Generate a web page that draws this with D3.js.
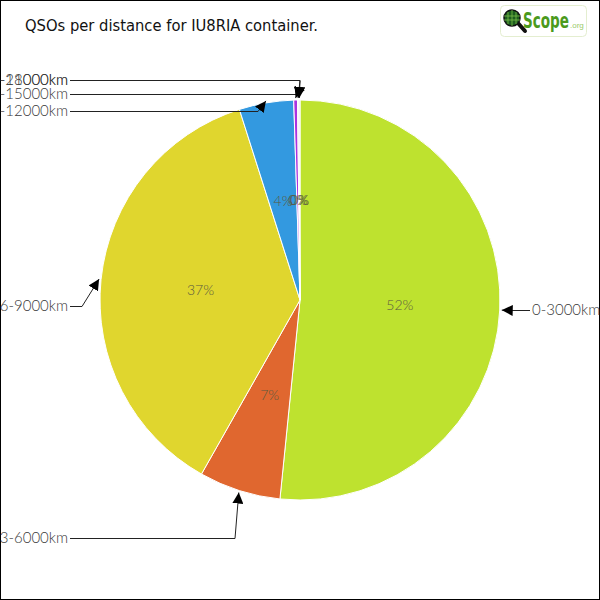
<!DOCTYPE html>
<html><head><meta charset="utf-8">
<script src="https://cdn.jsdelivr.net/npm/d3@7"></script>
<style>body{margin:0;background:#fff}svg{display:block}</style>
</head><body>
<svg id="c" width="600" height="600"></svg>
<script>
// ---- data ----
const categories = ["0-3000km","3-6000km","6-9000km","9-12000km","12-15000km","15-18000km","18-21000km"];
const values = [516, 66, 369, 44, 3, 1, 1];
const colors = ["#bee22f","#e0672f","#e0d62e","#3399e0","#aa33e0","#e899c8","#e0e0e0"];
const title = "QSOs per distance for IU8RIA container.";

const W = 600, H = 600, cx = 300, cy = 300, R = 200;
const svg = d3.select("#c");
svg.append("rect").attr("x",0.5).attr("y",0.5).attr("width",W-1).attr("height",H-1)
  .attr("fill","#fff").attr("stroke","#000");

svg.append("text").attr("x",25).attr("y",31).text(title)
  .attr("font-family","'DejaVu Sans Condensed', Roboto, sans-serif").attr("font-size",16).attr("fill","#111")
  .attr("textLength",293).attr("lengthAdjust","spacingAndGlyphs");

// logo
const logo = svg.append("g");
logo.append("rect").attr("x",500.5).attr("y",5.5).attr("width",86).attr("height",31).attr("rx",4)
  .attr("fill","#fff").attr("stroke","#e4eed0");
logo.append("line").attr("x1",517).attr("y1",22).attr("x2",525).attr("y2",31)
  .attr("stroke","#111").attr("stroke-width",4).attr("stroke-linecap","round");
logo.append("circle").attr("cx",512).attr("cy",18).attr("r",8).attr("fill","#1d5e1d").attr("stroke","#111").attr("stroke-width",1.5);
logo.append("path").attr("d","M508,12V24M512,10V26M516,12V24M504,16H520M504,20H520").attr("stroke","#7bbf4a").attr("stroke-width",0.8);
logo.append("text").attr("x",523).attr("y",28).text("Scope")
  .attr("font-family","'DejaVu Sans Condensed', sans-serif").attr("font-weight","bold").attr("font-size",22).attr("fill","#4b9a1c")
  .attr("textLength",46).attr("lengthAdjust","spacingAndGlyphs");
logo.append("text").attr("x",570).attr("y",28).text(".org")
  .attr("font-family","sans-serif").attr("font-size",8).attr("fill","#9acb6a");

// pie
const pie = d3.pie().sort(null).value(d => d).startAngle(0).endAngle(2*Math.PI);
const arcs = pie(values);
const arc = d3.arc().innerRadius(0).outerRadius(R);
const g = svg.append("g").attr("transform",`translate(${cx},${cy})`);
g.selectAll("path").data(arcs).join("path")
  .attr("d",arc).attr("fill",(d,i)=>colors[i]).attr("stroke","#fff").attr("stroke-width",1);

const total = d3.sum(values);
const fmt = v => Math.round(v/total*100) + "%";
g.selectAll("text.pct").data(arcs).join("text").attr("class","pct")
  .attr("x",d=>arc.centroid(d)[0]).attr("y",d=>arc.centroid(d)[1]+5)
  .attr("text-anchor","middle").attr("font-family","Lato, 'Open Sans', sans-serif").attr("font-weight",300)
  .attr("font-size",14).attr("fill","#5a5a40").text(d=>fmt(d.data));

// leader labels (layout: side, text y, elbow point)
const layout = [
  {side:"r", ty:310, ex:514, ey:310},
  {side:"l", ty:538, ex:235, ey:538},
  {side:"l", ty:306, ex:82,  ey:306},
  {side:"l", ty:111, ex:258, ey:111},
  {side:"l", ty:94,  ex:297, ey:94},
  {side:"l", ty:80,  ex:300, ey:80},
  {side:"l", ty:80,  ex:300, ey:80}
];
const defs = svg.append("defs");
defs.append("marker").attr("id","ah").attr("viewBox","0 0 10 10").attr("refX",10).attr("refY",5)
  .attr("markerWidth",11).attr("markerHeight",11).attr("markerUnits","userSpaceOnUse").attr("orient","auto")
  .append("path").attr("d","M0,0L10,5L0,10z").attr("fill","#000");

const lab = svg.append("g");
arcs.forEach((a,i) => {
  const L = layout[i];
  const mid = (a.startAngle + a.endAngle)/2;
  const tr = R + 2;
  const tx = cx + tr*Math.sin(mid), ty = cy - tr*Math.cos(mid);
  const lx = L.side === "r" ? 530 : 70;
  lab.append("path")
    .attr("d",`M${lx},${L.ty+0.5}L${L.ex},${L.ey+0.5}L${tx},${ty}`)
    .attr("fill","none").attr("stroke","#222").attr("stroke-width",1).attr("marker-end","url(#ah)");
  lab.append("text").attr("x", L.side==="r" ? 532 : 68).attr("y", L.ty+5)
    .attr("text-anchor", L.side==="r" ? "start" : "end")
    .attr("font-family","Lato, 'Open Sans', sans-serif").attr("font-weight",300)
    .attr("font-size",15).attr("fill","#3a3a3a").text(categories[i]);
});
</script>
</body></html>
